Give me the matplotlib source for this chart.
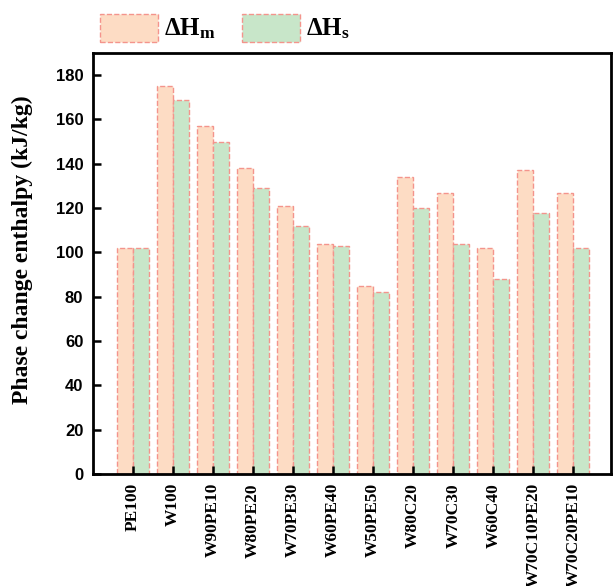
import matplotlib
matplotlib.use("Agg")
import matplotlib.pyplot as plt
import numpy as np
from matplotlib.patches import Rectangle

categories = ["PE100", "W100", "W90PE10", "W80PE20", "W70PE30", "W60PE40", "W50PE50",
              "W80C20", "W70C30", "W60C40", "W70C10PE20", "W70C20PE10"]
dH_m = [102, 175, 157, 138, 121, 104, 85, 134, 127, 102, 137, 127]
dH_s = [102, 169, 150, 129, 112, 103, 82, 120, 104, 88, 118, 102]
yticks = [0, 20, 40, 60, 80, 100, 120, 140, 160, 180]
legend_labels = [r'$\mathbf{\Delta H_m}$', r'$\mathbf{\Delta H_s}$']

plt.rcParams['mathtext.fontset'] = 'custom'
plt.rcParams['mathtext.bf'] = 'Liberation Serif:bold'
plt.rcParams['mathtext.rm'] = 'Liberation Serif:bold'
plt.rcParams['mathtext.it'] = 'Liberation Serif:bold'

W, H = 613, 586
fig = plt.figure(figsize=(W/100, H/100), dpi=100)
ax = fig.add_axes([93/W, 112/H, 518/W, 421/H])

orange = '#FDDCC4'
green = '#C8E6C9'
edge = '#F4948C'
x = np.arange(len(categories))
w = 0.4
ax.bar(x - w/2, dH_m, width=w, color=orange, edgecolor=edge, linestyle='--', linewidth=1.0)
ax.bar(x + w/2, dH_s, width=w, color=green, edgecolor=edge, linestyle='--', linewidth=1.0)

ax.set_xlim(-1.0, 11.94)
ax.set_ylim(0, 190)
ax.set_yticks(yticks)
ax.set_yticklabels([str(v) for v in yticks], fontfamily='Liberation Sans', fontweight='bold', fontsize=12)
ax.set_xticks(x)
ax.set_xticklabels(categories, rotation=90, fontfamily='Liberation Serif', fontweight='bold', fontsize=12.5)
ax.tick_params(axis='y', direction='in', length=6, width=1.8, pad=7)
ax.tick_params(axis='x', direction='in', length=6, width=1.8, pad=6.5)
for s in ax.spines.values():
    s.set_linewidth(2)
ax.set_ylabel('Phase change enthalpy (kJ/kg)', fontfamily='Liberation Serif', fontweight='bold', fontsize=17)
ax.yaxis.set_label_coords(-0.116, 0.533)

# legend drawn above the axes
for i, (col, lab) in enumerate(zip([orange, green], legend_labels)):
    x0 = 100 + i * 141.5
    fig.patches.append(Rectangle((x0/W, 1 - 42/H), 58/W, 28/H, transform=fig.transFigure,
                                 facecolor=col, edgecolor=edge, linestyle='--', linewidth=1.0))
    fig.text((x0 + 64)/W, 1 - 29/H, lab, fontsize=18, va='center', ha='left')

fig.savefig('out.png', dpi=100)
